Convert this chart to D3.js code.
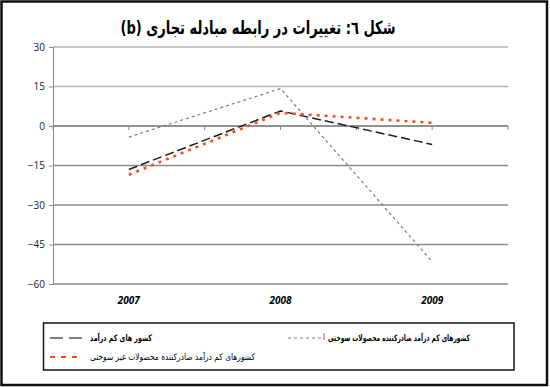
<!DOCTYPE html>
<html>
<head>
<meta charset="utf-8">
<script src="https://cdn.jsdelivr.net/npm/d3@7"></script>
<style>
  body { margin: 0; background: #fff; }
  svg { display: block; }
</style>
</head>
<body>
<svg id="chart" width="550" height="387"></svg>
<script>
// values
const years = ['2007', '2008', '2009'];
const lowIncome = [-16.5, 5.7, -7];
const fuelExporters = [-4.2, 14.2, -51.5];
const nonFuelExporters = [-18.5, 5, 1.2];
const yTicks = [30, 15, 0, -15, -30, -45, -60];

const seriesNames = [
  'کشور های کم درآمد',
  'کشورهای کم درآمد صادرکننده محصولات سوختی',
  'کشورهای کم درآمد صادرکننده محصولات غیر سوختی',
];

const svg = d3.select('#chart');
const font = "'DejaVu Sans', sans-serif";

// outer frame
svg.append('rect')
  .attr('x', 1.5).attr('y', 1.5)
  .attr('width', 545.5).attr('height', 383.5)
  .attr('fill', 'none').attr('stroke', '#111').attr('stroke-width', 2.5);

svg.append('text')
  .attr('x', 258).attr('y', 34)
  .attr('text-anchor', 'middle')
  .attr('direction', 'rtl')
  .attr('textLength', 275)
  .attr('lengthAdjust', 'spacingAndGlyphs')
  .style('font-family', font)
  .style('font-size', '18px')
  .style('font-weight', 'bold')
  .text('شکل ٦: تغییرات در رابطه مبادله تجاری (b)');

const x = d3.scalePoint().domain(years).range([53, 508]).padding(0.5);
const y = d3.scaleLinear().domain([-60, 30]).range([284, 47]);

// grid lines
svg.append('g')
  .selectAll('line')
  .data(yTicks.filter((d) => d !== 0))
  .join('line')
  .attr('x1', 53).attr('x2', 508)
  .attr('y1', (d) => y(d)).attr('y2', (d) => y(d))
  .attr('stroke', (d) => (d > 0 ? '#b4b4b4' : '#8c8c8c'))
  .attr('stroke-width', 1.5);

// y axis
const yAxis = svg.append('g')
  .attr('transform', 'translate(53,0)')
  .call(d3.axisLeft(y).tickValues(yTicks).tickSize(4).tickPadding(4));
yAxis.select('.domain').attr('stroke', '#8c8c8c');
yAxis.selectAll('.tick line').attr('stroke', '#8c8c8c');
yAxis.selectAll('text')
  .style('font-family', "'Open Sans', sans-serif")
  .style('font-size', '10px')
  .attr('fill', '#222');

// category axis on the zero line, ticks at centres and boundaries
const halfStep = x.step() / 2;
const catTicks = d3.range(7).map((i) => 53 + i * halfStep);
svg.append('line')
  .attr('x1', 53).attr('x2', 508)
  .attr('y1', y(0)).attr('y2', y(0))
  .attr('stroke', '#6e6e6e').attr('stroke-width', 1.5);
svg.append('g')
  .selectAll('line')
  .data(catTicks)
  .join('line')
  .attr('x1', (d) => d).attr('x2', (d) => d)
  .attr('y1', y(0)).attr('y2', y(0) + 4)
  .attr('stroke', '#8c8c8c');

// year labels under the plot
svg.append('g')
  .selectAll('text')
  .data(years)
  .join('text')
  .attr('x', (d) => x(d))
  .attr('y', 304)
  .attr('text-anchor', 'middle')
  .style('font-family', "'Open Sans', sans-serif")
  .style('font-size', '10px')
  .style('font-weight', 'bold')
  .style('font-style', 'italic')
  .text((d) => d);

const series = [
  { values: lowIncome, color: '#1e1e14', dash: '9,4', width: 1.5 },
  { values: fuelExporters, color: '#7878a8', dash: '3,3', width: 1.2 },
  { values: nonFuelExporters, color: '#f0501e', dash: '3,5', width: 2.6 },
];

const line = d3.line()
  .x((d, i) => x(years[i]))
  .y((d) => y(d));

svg.append('g')
  .selectAll('path')
  .data(series)
  .join('path')
  .attr('d', (d) => line(d.values))
  .attr('fill', 'none')
  .attr('stroke', (d) => d.color)
  .attr('stroke-width', (d) => d.width)
  .attr('stroke-dasharray', (d) => d.dash);

// legend
svg.append('rect')
  .attr('x', 43.5).attr('y', 323)
  .attr('width', 470.5).attr('height', 47)
  .attr('fill', 'none').attr('stroke', '#111').attr('stroke-width', 1.5);

const legendItems = [
  { x: 50, y: 338, name: seriesNames[0], bold: true, len: 62, color: '#55554a', dash: '13,6', width: 1.5 },
  { x: 288, y: 338, name: seriesNames[1], bold: true, len: 142, color: '#7878a8', dash: '3,3', width: 1 },
  { x: 50, y: 357, name: seriesNames[2], bold: false, len: 165, color: '#f0501e', dash: '5,6', width: 1.8 },
];

const legend = svg.append('g')
  .selectAll('g')
  .data(legendItems)
  .join('g')
  .attr('transform', (d) => `translate(${d.x},${d.y})`);

legend.append('line')
  .attr('x1', 0).attr('x2', 33)
  .attr('stroke', (d) => d.color)
  .attr('stroke-width', (d) => d.width)
  .attr('stroke-dasharray', (d) => d.dash);

legend.append('text')
  .attr('x', (d) => 40 + d.len)
  .attr('dy', '0.35em')
  .attr('text-anchor', 'start')
  .attr('direction', 'rtl')
  .attr('textLength', (d) => d.len)
  .attr('lengthAdjust', 'spacingAndGlyphs')
  .style('font-family', font)
  .style('font-size', '9px')
  .style('font-weight', (d) => (d.bold ? 'bold' : 'normal'))
  .text((d) => d.name);

// small brownish marker next to the second legend sample, as in the source
svg.append('line')
  .attr('x1', 324).attr('x2', 324)
  .attr('y1', 333).attr('y2', 340)
  .attr('stroke', '#c8966e').attr('stroke-width', 1.5);
</script>
</body>
</html>
